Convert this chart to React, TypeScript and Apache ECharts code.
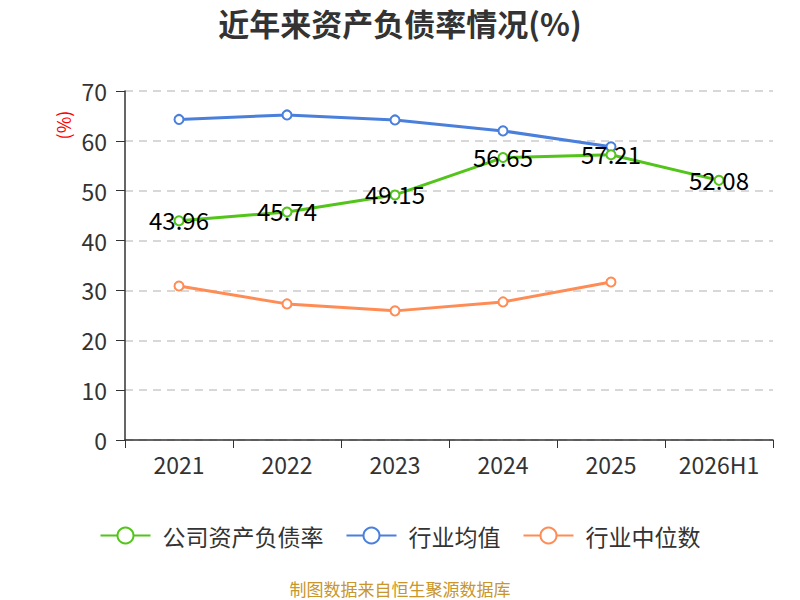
import React, { useEffect, useRef } from "react";
import * as echarts from "echarts";

const categories = ["2021", "2022", "2023", "2024", "2025", "2026H1"];
const companyRatio = [43.96, 45.74, 49.15, 56.65, 57.21, 52.08];
const industryAvg = [64.3, 65.2, 64.2, 62.0, 58.8, null];
const industryMedian = [30.9, 27.3, 25.9, 27.7, 31.7, null];
const yTicks = { min: 0, max: 70, interval: 10 };

const FONT = "'Noto Sans CJK SC', 'Noto Sans', sans-serif";

export default function App() {
  const ref = useRef<HTMLDivElement>(null);
  useEffect(() => {
    if (!ref.current) return;
    const chart = echarts.init(ref.current, null, { renderer: "svg" });
    chart.setOption({
      animation: false,
      textStyle: { fontFamily: FONT },
      title: {
        text: "近年来资产负债率情况(%)",
        left: "center",
        top: 2,
        textStyle: { fontSize: 31, fontWeight: "bold", color: "#333", fontFamily: FONT },
      },
      grid: { left: 125, right: 27, top: 91, bottom: 160 },
      legend: {
        top: 519,
        left: "center",
        itemWidth: 50,
        itemHeight: 20,
        itemGap: 22,
        textStyle: { fontSize: 23, color: "#333", fontFamily: FONT, padding: [0, 0, 0, 7] },
        data: ["公司资产负债率", "行业均值", "行业中位数"],
      },
      graphic: [
        {
          type: "text",
          x: 63,
          y: 125,
          rotation: Math.PI / 2,
          style: {
            text: "(%)",
            fill: "#ff0000",
            fontSize: 18,
            fontFamily: FONT,
            textAlign: "center",
            textVerticalAlign: "middle",
          },
        },
        {
          type: "text",
          x: 400,
          y: 588,
          style: {
            text: "制图数据来自恒生聚源数据库",
            fill: "#c8962a",
            fontSize: 17,
            fontFamily: FONT,
            textAlign: "center",
            textVerticalAlign: "middle",
          },
        },
      ],
      xAxis: {
        type: "category",
        data: categories,
        boundaryGap: true,
        axisLine: { lineStyle: { color: "#333", width: 1.5 } },
        axisTick: { show: true, length: 8, lineStyle: { color: "#333" } },
        axisLabel: { fontSize: 23, color: "#333", margin: 12, fontFamily: FONT },
      },
      yAxis: {
        type: "value",
        min: yTicks.min,
        max: yTicks.max,
        interval: yTicks.interval,
        axisLine: { show: true, lineStyle: { color: "#333", width: 1.5 } },
        axisTick: { show: true, length: 9, lineStyle: { color: "#333" } },
        axisLabel: { fontSize: 23, color: "#333", margin: 18, fontFamily: FONT },
        splitLine: { lineStyle: { type: [8, 6], color: "#ccc", width: 1.5 } },
      },
      series: [
        {
          name: "公司资产负债率",
          type: "line",
          data: companyRatio,
          symbol: "emptyCircle",
          symbolSize: 9,
          lineStyle: { width: 3, color: "#52c41a" },
          itemStyle: { color: "#52c41a", borderWidth: 1.5 },
          label: {
            show: true,
            position: "inside",
            fontSize: 24,
            color: "#000",
            fontFamily: FONT,
            offset: [0, -1],
          },
          z: 3,
        },
        {
          name: "行业均值",
          type: "line",
          data: industryAvg,
          symbol: "emptyCircle",
          symbolSize: 9,
          lineStyle: { width: 3, color: "#4a7fdc" },
          itemStyle: { color: "#4a7fdc", borderWidth: 1.5 },
          z: 2,
        },
        {
          name: "行业中位数",
          type: "line",
          data: industryMedian,
          symbol: "emptyCircle",
          symbolSize: 9,
          lineStyle: { width: 3, color: "#ff8c55" },
          itemStyle: { color: "#ff8c55", borderWidth: 1.5 },
          z: 2,
        },
      ],
    });
    return () => chart.dispose();
  }, []);
  return (
    <div
      ref={ref}
      style={{ position: "absolute", left: 0, top: 0, width: 800, height: 600 }}
    />
  );
}
